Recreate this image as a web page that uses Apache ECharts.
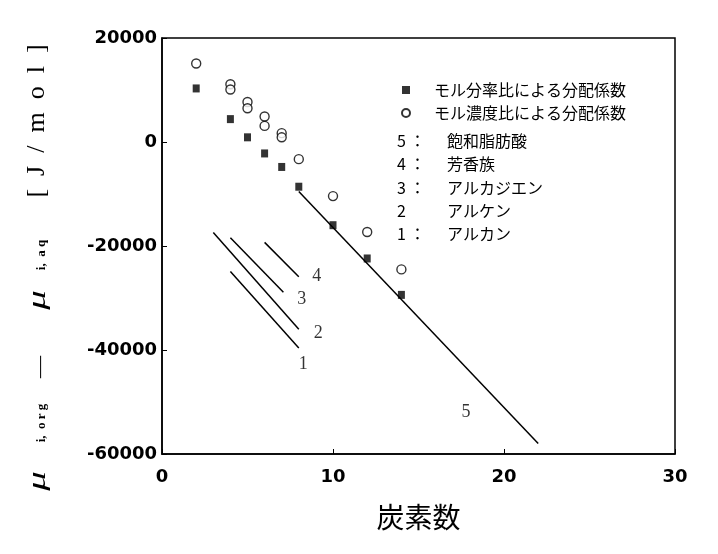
<!DOCTYPE html>
<html>
<head>
<meta charset="utf-8">
<script src="https://cdn.jsdelivr.net/npm/echarts@6/dist/echarts.min.js"></script>
<style>html,body{margin:0;padding:0;background:#fff;}#c{width:718px;height:554px;}</style>
</head>
<body>
<div id="c"></div>
<script>
// ---- data ----
const seriesNames = ['モル分率比による分配係数', 'モル濃度比による分配係数'];
const fracX = [2, 4, 5, 6, 7, 8, 10, 12, 14];
const fracY = [10300, 4400, 900, -2200, -4800, -8600, -16000, -22400, -29400];
const concX = [2, 4, 4, 5, 5, 6, 6, 7, 7, 8, 10, 12, 14];
const concY = [15100, 11100, 10100, 7700, 6500, 4900, 3100, 1700, 900, -3300, -10400, -17300, -24500];
const lineNames = ['1', '2', '3', '4', '5'];
const lineStartX = [4, 3, 4, 6, 8];
const lineStartY = [-24900, -17400, -18400, -19300, -9500];
const lineEndX = [8, 8, 7.1, 8, 22];
const lineEndY = [-39600, -36000, -28900, -25900, -58000];
const lineLabelX = [8.26, 9.14, 8.17, 9.05, 17.78];
const lineLabelY = [-42750, -36800, -30200, -25900, -52000];
const noteNums = ['5 ：', '4 ：', '3 ：', '2', '1 ：'];
const noteNames = ['飽和脂肪酸', '芳香族', 'アルカジエン', 'アルケン', 'アルカン'];
const xTicks = {min: 0, max: 30, interval: 10};
const yTicks = {min: -60000, max: 20000, interval: 20000};

const chart = echarts.init(document.getElementById('c'), null, {renderer: 'canvas'});
const cjk = '"Noto Sans CJK JP", sans-serif';

const series = [];
lineNames.forEach((n, i) => {
  series.push({
    type: 'line', name: 'line' + n, silent: true, symbol: 'none',
    data: [[lineStartX[i], lineStartY[i]], [lineEndX[i], lineEndY[i]]],
    lineStyle: {color: '#000', width: 1.5}, z: 2
  });
});
series.push({
  type: 'scatter', name: seriesNames[0], symbol: 'rect', symbolSize: [7, 8],
  data: fracX.map((x, i) => [x, fracY[i]]),
  itemStyle: {color: '#000'}, z: 4
});
series.push({
  type: 'scatter', name: seriesNames[1], symbol: 'circle', symbolSize: 9,
  data: concX.map((x, i) => [x, concY[i]]),
  itemStyle: {color: '#fff', borderColor: '#000', borderWidth: 1.4}, z: 3
});
series.push({
  type: 'scatter', name: 'labels', symbolSize: 0, silent: true,
  data: lineNames.map((n, i) => ({name: n, value: [lineLabelX[i], lineLabelY[i]]})),
  label: {show: true, position: 'inside', formatter: p => p.name,
          fontFamily: '"Liberation Serif", serif', fontSize: 18, color: '#000'}
});

const graphics = [];
noteNums.forEach((t, i) => {
  graphics.push({type: 'text', x: 397, y: 141 + i * 23.3,
    style: {text: t, font: '16px ' + cjk, fill: '#000', verticalAlign: 'middle', align: 'left'}});
  graphics.push({type: 'text', x: 447, y: 141 + i * 23.3,
    style: {text: noteNames[i], font: '16px ' + cjk, fill: '#000', verticalAlign: 'middle', align: 'left'}});
});
// y axis title (rotated pieces)
const yl = (text, x, y, font, sx) => graphics.push({type: 'text', x: x, y: y, rotation: Math.PI / 2, scaleX: sx || 1,
  style: {text: text, font: font, fill: '#000', align: 'center', verticalAlign: 'middle'}});
yl('μ', 38, 481, 'italic 26px "Liberation Serif", serif', 1.5);
yl('i,  o r g', 42, 423, 'bold 13px "Liberation Serif", serif');
yl('—', 40, 367, '22px "Liberation Serif", serif');
yl('μ', 38, 300, 'italic 26px "Liberation Serif", serif', 1.5);
yl('i,  a q', 42, 255, 'bold 13px "Liberation Serif", serif');
yl('[  J  /  m  o  l  ]', 37, 121, '26px "Liberation Serif", serif');

chart.setOption({
  animation: false,
  backgroundColor: '#fff',
  grid: {left: 162, right: 43, top: 38, bottom: 100, show: true, borderColor: '#000', borderWidth: 1.5},
  legend: {
    data: seriesNames, orient: 'vertical', left: 401, top: 82, padding: 0,
    itemWidth: 8, itemHeight: 8, itemGap: 7,
    textStyle: {fontFamily: cjk, fontSize: 16, color: '#000', padding: [0, 0, 0, 19]}
  },
  xAxis: {
    type: 'value', min: xTicks.min, max: xTicks.max, interval: xTicks.interval,
    name: '炭素数', nameLocation: 'middle', nameGap: 49,
    nameTextStyle: {fontFamily: cjk, fontSize: 28, color: '#000'},
    axisLine: {onZero: false, lineStyle: {color: '#000', width: 1.5}},
    axisTick: {inside: true, length: 5, lineStyle: {color: '#000'}},
    splitLine: {show: false},
    axisLabel: {color: '#000', fontFamily: '"DejaVu Sans", sans-serif', fontWeight: 'bold', fontSize: 18, margin: 14,
                formatter: v => String(v)}
  },
  yAxis: {
    type: 'value', min: yTicks.min, max: yTicks.max, interval: yTicks.interval,
    axisLine: {onZero: false, lineStyle: {color: '#000', width: 1.5}},
    axisTick: {inside: true, length: 5, lineStyle: {color: '#000'}},
    splitLine: {show: false},
    axisLabel: {color: '#000', fontFamily: '"DejaVu Sans", sans-serif', fontWeight: 'bold', fontSize: 18, margin: 5,
                formatter: v => String(v)}
  },
  graphic: graphics,
  series: series
});
</script>
</body>
</html>
